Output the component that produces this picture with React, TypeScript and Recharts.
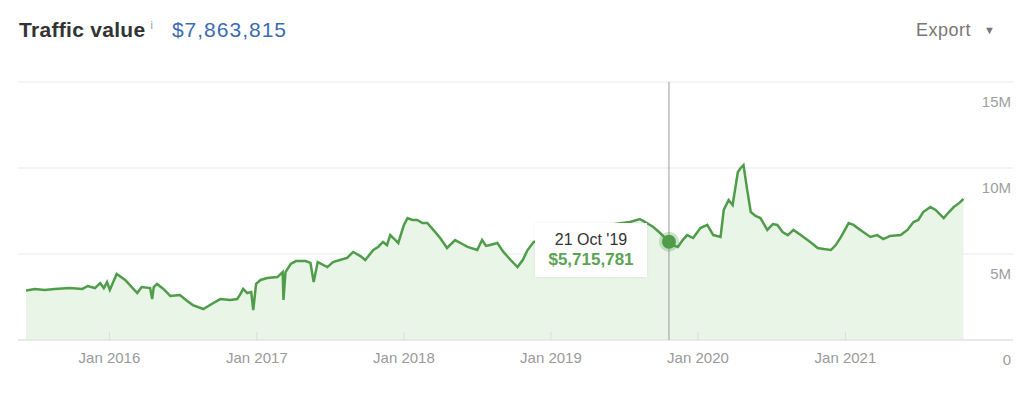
import { AreaChart, Area, XAxis, YAxis, CartesianGrid, Tooltip } from 'recharts';

const dates = [
  '2015-06-08', '2015-06-30', '2015-07-24', '2015-08-18', '2015-09-24', '2015-10-26', '2015-11-08', '2015-11-26', '2015-12-09', '2015-12-18', '2015-12-26',
  '2016-01-02', '2016-01-19', '2016-02-09', '2016-03-10', '2016-03-21', '2016-04-11', '2016-04-16', '2016-04-20', '2016-04-28', '2016-05-14', '2016-05-31', '2016-06-24', '2016-07-09', '2016-07-26', '2016-08-21', '2016-09-15', '2016-10-02', '2016-10-27', '2016-11-13', '2016-11-21', '2016-11-28', '2016-12-08', '2016-12-18', '2016-12-23', '2016-12-30',
  '2017-01-10', '2017-01-27', '2017-02-21', '2017-03-06', '2017-03-08', '2017-03-13', '2017-03-26', '2017-04-08', '2017-05-02', '2017-05-14', '2017-05-22', '2017-06-01', '2017-06-25', '2017-07-09', '2017-07-26', '2017-08-13', '2017-08-28', '2017-09-15', '2017-09-27', '2017-10-17', '2017-10-29', '2017-11-10', '2017-11-20', '2017-11-28', '2017-12-11', '2017-12-18',
  '2018-01-01', '2018-01-10', '2018-01-22', '2018-02-03', '2018-02-16', '2018-02-28', '2018-03-15', '2018-04-01', '2018-04-18', '2018-05-08', '2018-05-26', '2018-06-08', '2018-07-02', '2018-07-14', '2018-07-24', '2018-08-03', '2018-08-21', '2018-09-05', '2018-09-23', '2018-10-10', '2018-10-23', '2018-11-04', '2018-11-19', '2018-12-18',
  '2019-02-21', '2019-04-22', '2019-06-10', '2019-07-16', '2019-08-10', '2019-08-27', '2019-09-12', '2019-09-29', '2019-10-21', '2019-10-30', '2019-11-12', '2019-11-24', '2019-12-05', '2019-12-20',
  '2020-01-07', '2020-01-24', '2020-02-08', '2020-02-26', '2020-03-05', '2020-03-17', '2020-03-27', '2020-04-09', '2020-04-16', '2020-04-23', '2020-05-01', '2020-05-11', '2020-05-23', '2020-06-04', '2020-06-21', '2020-07-05', '2020-07-16', '2020-07-29', '2020-08-11', '2020-08-25', '2020-09-12', '2020-09-29', '2020-10-12', '2020-10-24', '2020-11-08', '2020-11-26', '2020-12-08', '2020-12-21',
  '2021-01-09', '2021-01-21', '2021-02-07', '2021-03-04', '2021-03-21', '2021-04-05', '2021-04-22', '2021-05-18', '2021-06-04', '2021-06-19', '2021-07-01', '2021-07-13', '2021-07-31', '2021-08-13', '2021-09-02', '2021-09-15', '2021-09-27', '2021-10-11', '2021-10-21',
];

// traffic value, millions of $
const valuesM = [
  2.88, 2.97, 2.91, 2.97, 3.02, 2.97, 3.14, 3.02, 3.31, 3.02, 3.37,
  2.91, 3.84, 3.49, 2.73, 3.08, 3.02, 2.38, 3.08, 3.26, 2.97, 2.56, 2.62, 2.33, 2.03, 1.8, 2.15, 2.38, 2.33, 2.38, 2.67, 2.97, 2.73, 2.79, 1.74, 3.26,
  3.49, 3.6, 3.66, 3.95, 2.33, 3.95, 4.42, 4.59, 4.59, 4.48, 3.37, 4.53, 4.24, 4.53, 4.65, 4.77, 5.12, 4.88, 4.65, 5.23, 5.41, 5.7, 5.52, 6.1, 5.81, 5.64,
  6.69, 7.09, 6.98, 6.98, 6.8, 6.8, 6.4, 5.93, 5.35, 5.81, 5.58, 5.41, 5.23, 5.81, 5.47, 5.52, 5.64, 5.12, 4.65, 4.24, 4.65, 5.23, 5.7, 5.93,
  6.28, 6.51, 6.74, 6.86, 7.03, 6.8, 6.57, 6.22, 5.715781, 5.52, 5.41, 5.81, 6.1, 5.93,
  6.51, 6.69, 6.1, 5.99, 7.56, 8.14, 7.85, 9.77, 10.0, 10.17, 8.9, 7.44, 7.21, 7.09, 6.4, 6.74, 6.69, 6.28, 6.1, 6.4, 6.1, 5.81, 5.58, 5.35, 5.29, 5.23, 5.52, 5.99,
  6.8, 6.69, 6.4, 5.99, 6.1, 5.87, 6.05, 6.1, 6.4, 6.86, 6.98, 7.44, 7.73, 7.56, 7.09, 7.44, 7.73, 7.97, 8.2,
];

const yearTicks = [2016, 2017, 2018, 2019, 2020, 2021];
const valueTicks = [0, 5000000, 10000000, 15000000];
const valueTickLabels = ['0', '5M', '10M', '15M'];

const totalValue = '$7,863,815';
const selectedDate = '2019-10-21';

const MONTHS = ['Jan', 'Feb', 'Mar', 'Apr', 'May', 'Jun', 'Jul', 'Aug', 'Sep', 'Oct', 'Nov', 'Dec'];
const toTs = (d: string) => Date.parse(d + 'T00:00:00Z');

const data = dates.map((d, i) => ({ t: toTs(d), value: Math.round(valuesM[i] * 1e6) }));
const selectedIndex = dates.indexOf(selectedDate);

const GREEN = '#4f9d4a';
const FONT = '"Liberation Sans", Arial, Helvetica, sans-serif';

function XTick({ x, y, payload }: any) {
  const d = new Date(payload.value);
  return (
    <g>
      <line x1={x} x2={x} y1={y - 8} y2={y} stroke="#dcdcdc" />
      <text x={x} y={y + 23} textAnchor="middle" fill="#9a9a9a" fontSize={15} fontFamily={FONT}>
        {`${MONTHS[d.getUTCMonth()]} ${d.getUTCFullYear()}`}
      </text>
    </g>
  );
}

// labels sit just under their gridline, right aligned
function YTick({ x, y, payload }: any) {
  const i = valueTicks.indexOf(Number(payload.value));
  return (
    <text x={x - 2} y={y + 25} textAnchor="end" fill="#a0a0a0" fontSize={15} fontFamily={FONT}>
      {valueTickLabels[i]}
    </text>
  );
}

function TipBox({ active, payload }: any) {
  if (!active || !payload || !payload.length) return null;
  const p = payload[0].payload;
  const d = new Date(p.t);
  const label = `${d.getUTCDate()} ${MONTHS[d.getUTCMonth()]} '${String(d.getUTCFullYear()).slice(2)}`;
  return (
    <div
      style={{
        background: '#fff',
        width: 112,
        height: 54,
        boxSizing: 'border-box',
        padding: '7px 0 0',
        textAlign: 'center',
        fontFamily: FONT,
        boxShadow: '0 0 3px rgba(0,0,0,0.08)',
      }}
    >
      <div style={{ fontSize: 16, color: '#333', lineHeight: '19px' }}>{label}</div>
      <div style={{ fontSize: 17, color: '#5aa453', fontWeight: 700, lineHeight: '22px' }}>
        ${p.value.toLocaleString('en-US')}
      </div>
    </div>
  );
}

export default function App() {
  const domainStart = toTs('2015-05-19');
  const domainEnd = toTs('2022-02-21');
  return (
    <div style={{ position: 'absolute', left: 0, top: 0, width: 1024, height: 397, background: '#fff', fontFamily: FONT }}>
      <div style={{ position: 'absolute', left: 19, top: 18, display: 'flex', alignItems: 'baseline', whiteSpace: 'nowrap' }}>
        <span style={{ fontSize: 21, fontWeight: 700, color: '#333', letterSpacing: 0.3 }}>Traffic value</span>
        <span style={{ fontSize: 11, color: '#999', marginLeft: 5, position: 'relative', top: -8 }}>i</span>
        <span style={{ fontSize: 21, color: '#3a6cb2', marginLeft: 19, letterSpacing: 1 }}>{totalValue}</span>
      </div>
      <div style={{ position: 'absolute', left: 916, top: 20, fontSize: 18, color: '#777', letterSpacing: 0.5 }}>
        Export
        <span style={{ fontSize: 11, marginLeft: 13, position: 'relative', top: -2 }}>▼</span>
      </div>
      <AreaChart width={1024} height={397} data={data} margin={{ top: 82, right: 11, left: 18, bottom: 0 }}>
        <CartesianGrid vertical={false} stroke="#e9e9e9" />
        <XAxis
          dataKey="t"
          type="number"
          scale="time"
          domain={[domainStart, domainEnd]}
          ticks={yearTicks.map((y) => Date.UTC(y, 0, 1))}
          tick={<XTick />}
          tickSize={0}
          tickMargin={0}
          tickLine={false}
          axisLine={{ stroke: '#dedede' }}
          height={57}
          allowDataOverflow
        />
        <YAxis
          orientation="right"
          mirror
          domain={[0, 15000000]}
          ticks={valueTicks}
          tick={<YTick />}
          tickSize={0}
          tickMargin={0}
          tickLine={false}
          axisLine={false}
          width={1}
          interval={0}
        />
        <Tooltip
          content={<TipBox />}
          defaultIndex={selectedIndex}
          active
          position={{ x: 535, y: 223 }}
          cursor={{ stroke: '#9a9a9a', strokeWidth: 1 }}
          isAnimationActive={false}
          wrapperStyle={{ outline: 'none' }}
        />
        <Area
          type="linear"
          dataKey="value"
          stroke={GREEN}
          strokeWidth={2.5}
          fill="#e9f5e7"
          fillOpacity={1}
          dot={false}
          activeDot={{ r: 7, fill: GREEN, stroke: 'rgba(79,157,74,0.28)', strokeWidth: 6 }}
          isAnimationActive={false}
        />
      </AreaChart>
    </div>
  );
}
